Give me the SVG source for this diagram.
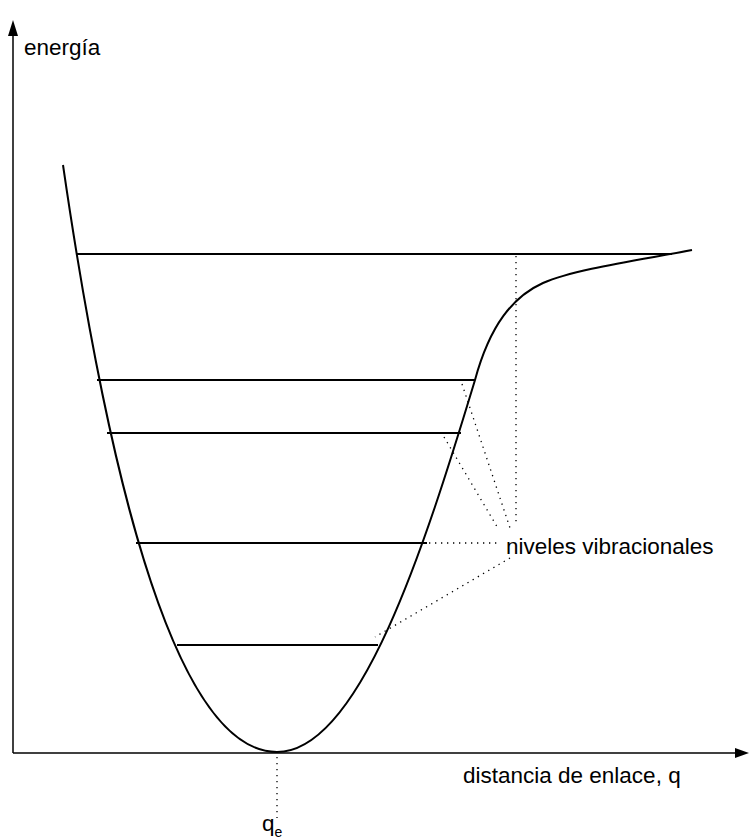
<svg xmlns="http://www.w3.org/2000/svg" width="749" height="840" viewBox="0 0 749 840">
<style>
.txt{font-family:"Liberation Sans",Arial,sans-serif;font-size:22.5px;fill:#000}
.solid{fill:none;stroke:#000;stroke-width:2}
.axis{fill:none;stroke:#000;stroke-width:1.5}
.dot{fill:none;stroke:#000;stroke-width:1.3;stroke-dasharray:1.3 4.7}
</style>
<rect width="749" height="840" fill="#fff"/>
<g id="axes">
<line class="axis" x1="13" y1="753" x2="13" y2="32"/>
<polygon points="13,20 8,36 18,36" fill="#000"/>
<line class="axis" x1="13" y1="753" x2="738" y2="753"/>
<polygon points="749,753 735,748 735,758" fill="#000"/>
</g>
<g id="curve">
<path class="solid" d="M63,165 C95,385 160,752 277,752 C360,752 425,545 475,380 C490,325 513,296.5 543,283 C575,269 640,260 692,250"/>
</g>
<g id="levels">
<line class="solid" x1="76" y1="254" x2="672" y2="254"/>
<line class="solid" x1="97" y1="380" x2="475" y2="380"/>
<line class="solid" x1="107" y1="433" x2="461" y2="433"/>
<line class="solid" x1="136" y1="543" x2="427" y2="543"/>
<line class="solid" x1="177" y1="645" x2="378" y2="645"/>
</g>
<g id="connectors">
<line class="dot" x1="516" y1="256" x2="516" y2="526"/>
<line class="dot" x1="462" y1="384" x2="510" y2="528"/>
<line class="dot" x1="444" y1="437" x2="499" y2="530"/>
<line class="dot" x1="429" y1="543" x2="497" y2="543"/>
<line class="dot" x1="510" y1="558" x2="375" y2="637"/>
<line class="dot" x1="277" y1="757" x2="277" y2="818"/>
</g>
<g id="labels">
<text class="txt" x="24" y="55">energía</text>
<text class="txt" x="506" y="554">niveles vibracionales</text>
<text class="txt" x="463" y="783">distancia de enlace, q</text>
<text class="txt" x="262" y="831">q<tspan font-size="14" dy="6">e</tspan></text>
</g>
</svg>
